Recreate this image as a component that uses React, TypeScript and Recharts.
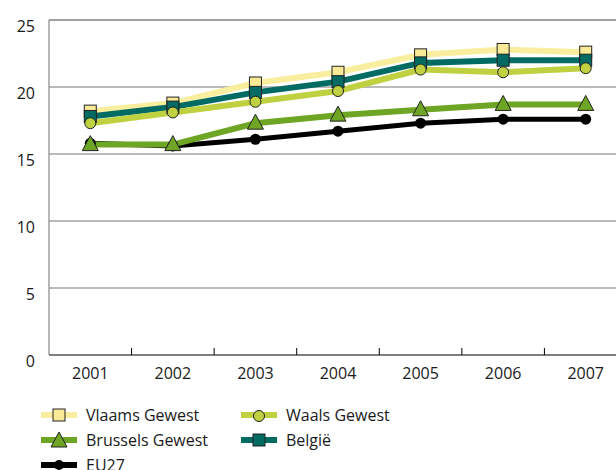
import React from "react";
import { LineChart, Line, XAxis, YAxis, CartesianGrid, ReferenceLine } from "recharts";

const YEARS = ["2001", "2002", "2003", "2004", "2005", "2006", "2007"];
const VLAAMS = [18.2, 18.8, 20.3, 21.1, 22.4, 22.8, 22.6];
const WAALS = [17.3, 18.1, 18.9, 19.7, 21.3, 21.1, 21.4];
const BRUSSELS = [15.7, 15.7, 17.3, 17.9, 18.3, 18.7, 18.7];
const BELGIE = [17.8, 18.5, 19.6, 20.4, 21.8, 22.0, 22.0];
const EU27 = [15.8, 15.6, 16.1, 16.7, 17.3, 17.6, 17.6];
const Y_TICKS = [0, 5, 10, 15, 20, 25];

const data = YEARS.map((year, i) => ({
  x: i + 1,
  year,
  vlaams: VLAAMS[i],
  waals: WAALS[i],
  brussels: BRUSSELS[i],
  belgie: BELGIE[i],
  eu27: EU27[i],
}));

// year positions get a label, the half steps between them get a small mark
const X_TICKS = YEARS.flatMap((_, i) => (i === 0 ? [1] : [i + 0.5, i + 1]));

const FONT = "'Open Sans', 'Liberation Sans', sans-serif";
const TEXT = "#1a1a1a";
const EDGE = "#222";

const C = {
  vlaams: "#f8ee9e",
  vlaamsFill: "#f8ea96",
  waals: "#bfd141",
  brussels: "#6ea524",
  belgie: "#006b63",
  eu27: "#000000",
};

type Kind = "square" | "circle" | "triangle" | "dot";

function marker(kind: Kind, cx: number, cy: number, fill: string, key?: React.Key) {
  if (kind === "square")
    return <rect key={key} x={cx - 6} y={cy - 6} width={12} height={12} fill={fill} stroke={EDGE} strokeWidth={1} />;
  if (kind === "circle")
    return <circle key={key} cx={cx} cy={cy} r={5.5} fill={fill} stroke={EDGE} strokeWidth={1} />;
  if (kind === "triangle")
    return (
      <path
        key={key}
        d={`M${cx},${cy - 9} L${cx + 8},${cy + 6} L${cx - 8},${cy + 6} Z`}
        fill={fill}
        stroke={EDGE}
        strokeWidth={1}
      />
    );
  return <circle key={key} cx={cx} cy={cy} r={5.5} fill="#000" />;
}

const dotFor = (kind: Kind, fill: string) => (props: any) =>
  marker(kind, props.cx, props.cy, fill, props.key ?? `${kind}-${props.index}`);

const YTick = (props: any) => (
  <text x={props.x - 14} y={props.y + 12} textAnchor="end" fontSize={16} fontFamily={FONT} fill={TEXT}>
    {props.payload.value}
  </text>
);

const XTick = (props: any) => {
  const v = props.payload.value;
  if (!Number.isInteger(v)) {
    return <line x1={props.x} x2={props.x} y1={props.y - 7} y2={props.y} stroke="#000" strokeWidth={1} />;
  }
  return (
    <text x={props.x} y={props.y + 24} textAnchor="middle" fontSize={16} fontFamily={FONT} fill={TEXT}>
      {YEARS[v - 1]}
    </text>
  );
};

const LEGEND = [
  { name: "Vlaams Gewest", color: C.vlaams, kind: "square" as Kind, fill: C.vlaamsFill },
  { name: "Waals Gewest", color: C.waals, kind: "circle" as Kind, fill: C.waals },
  { name: "Brussels Gewest", color: C.brussels, kind: "triangle" as Kind, fill: C.brussels },
  { name: "België", color: C.belgie, kind: "square" as Kind, fill: C.belgie },
  { name: "EU27", color: C.eu27, kind: "dot" as Kind, fill: "#000" },
];

function LegendItem({ item }: { item: (typeof LEGEND)[number] }) {
  return (
    <div style={{ display: "flex", alignItems: "center", height: 25 }}>
      <svg width={36} height={20} style={{ marginRight: 9 }}>
        <line x1={0} x2={36} y1={10} y2={10} stroke={item.color} strokeWidth={6} strokeLinecap="round" />
        {item.kind === "square"
          ? <rect x={12} y={4} width={12} height={12} fill={item.fill} stroke={EDGE} />
          : item.kind === "dot"
          ? <circle cx={18} cy={10} r={5} fill="#000" />
          : marker(item.kind, 18, 11, item.fill)}
      </svg>
      <span style={{ fontFamily: FONT, fontSize: 16, color: TEXT }}>{item.name}</span>
    </div>
  );
}

export default function App() {
  return (
    <div style={{ position: "fixed", left: 0, top: 0, width: 616, height: 470, overflow: "hidden", background: "#fff" }}>
      <LineChart width={640} height={470} data={data} margin={{ top: 20, right: 13, left: 0, bottom: 85 }}>
        <CartesianGrid vertical={false} stroke="#777" horizontalValues={Y_TICKS.slice(1)} />
        <ReferenceLine y={25} stroke="#888" strokeWidth={1.2} />
        <XAxis
          dataKey="x"
          type="number"
          domain={[0.5, 7.5]}
          ticks={X_TICKS}
          interval={0}
          height={30}
          tickSize={0}
          tickMargin={0}
          tickLine={false}
          axisLine={{ stroke: "#000", strokeWidth: 1.2 }}
          tick={<XTick />}
        />
        <YAxis
          domain={[0, 25]}
          ticks={Y_TICKS}
          width={49}
          tickSize={0}
          tickMargin={0}
          tickLine={false}
          axisLine={{ stroke: "#888", strokeWidth: 1.2 }}
          tick={<YTick />}
        />
        <Line dataKey="eu27" stroke={C.eu27} strokeWidth={5} dot={dotFor("dot", "#000")} isAnimationActive={false} />
        <Line dataKey="brussels" stroke={C.brussels} strokeWidth={6} dot={dotFor("triangle", C.brussels)} isAnimationActive={false} />
        <Line dataKey="vlaams" stroke={C.vlaams} strokeWidth={6} dot={dotFor("square", C.vlaamsFill)} isAnimationActive={false} />
        <Line dataKey="belgie" stroke={C.belgie} strokeWidth={6} dot={dotFor("square", C.belgie)} isAnimationActive={false} />
        <Line dataKey="waals" stroke={C.waals} strokeWidth={6} dot={dotFor("circle", C.waals)} isAnimationActive={false} />
      </LineChart>
      <div style={{ position: "absolute", left: 41, top: 402 }}>
        <div style={{ display: "grid", gridTemplateColumns: "200px 200px" }}>
          {LEGEND.map((item) => (
            <LegendItem key={item.name} item={item} />
          ))}
        </div>
      </div>
    </div>
  );
}
